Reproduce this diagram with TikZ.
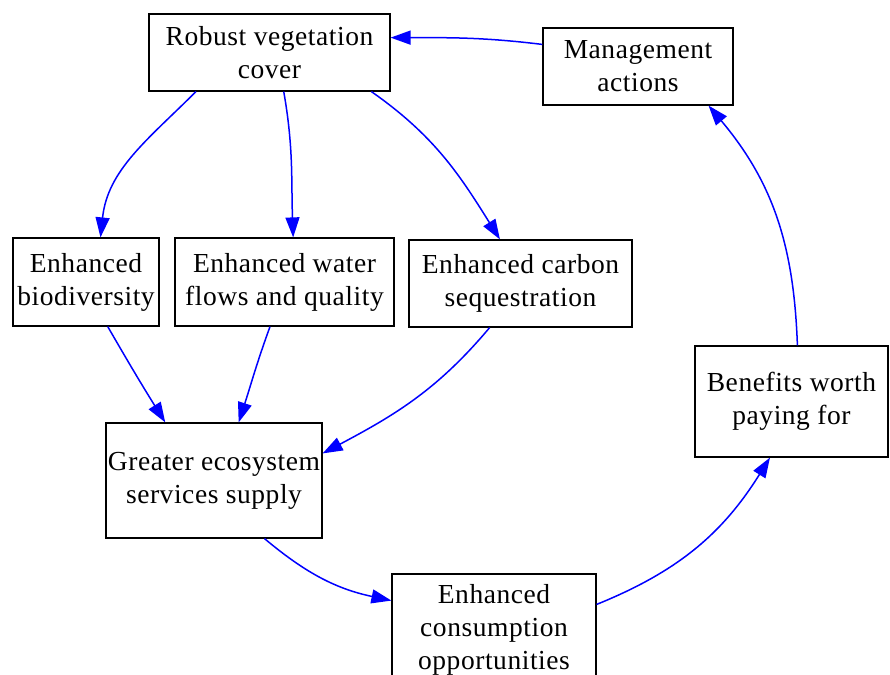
\documentclass[tikz,border=0pt]{standalone}
\usepackage{fontspec}
\setmainfont{Liberation Serif}[LetterSpace=2]
\usetikzlibrary{positioning,arrows.meta}

\begin{document}
\begin{tikzpicture}[x=1pt,y=1pt,on grid,
  box/.style={draw,line width=1.2pt,inner sep=0pt,align=center,
    font=\fontsize{27.5}{33}\selectfont},
  flow/.style={blue,line width=1.5pt,-{Triangle[length=20pt,width=14pt]}}]
\useasboundingbox (0,0) rectangle (890,-674);
\node[box,minimum width=241pt,minimum height=77pt] (robust) at (269.5,-52.5) {Robust vegetation\\cover};
\node[box,minimum width=190pt,minimum height=77pt] (mgmt) [below right=14pt and 368.5pt of robust] {Management\\actions};
\node[box,minimum width=219pt,minimum height=88pt] (water) [below right=229.5pt and 15pt of robust] {Enhanced water\\flows and quality};
\node[box,minimum width=146pt,minimum height=88pt] (bio) [left=198.5pt of water] {Enhanced\\biodiversity};
\node[box,minimum width=223pt,minimum height=87pt] (carbon) [below right=1.5pt and 236pt of water] {Enhanced carbon\\sequestration};
\node[box,minimum width=216pt,minimum height=115pt] (greater) [below left=198.5pt and 70.5pt of water] {Greater ecosystem\\services supply};
\node[box,minimum width=204pt,minimum height=112pt] (cons) [below right=149.5pt and 280pt of greater] {Enhanced\\consumption\\opportunities};
\node[box,minimum width=193pt,minimum height=111pt] (benefits) [above right=228.5pt and 297.5pt of cons] {Benefits worth\\paying for};
\path[flow]
(mgmt.167) edge[out=173,in=0] (robust.7)
(robust.-152.7) edge[out=-135,in=84] (bio.72)
(robust.-70.7) edge[out=-80,in=92] (water.79)
(robust.-21.3) edge[out=-35,in=122] (carbon.115)
(bio.-64.5) edge[out=-60,in=122] (greater.130.4)
(water.-108.2) edge[out=-110,in=72] (greater.67.3)
(carbon.-125) edge[out=-130,in=28] (greater.14.3)
(greater.-49) edge[out=-40,in=168] (cons.164)
(cons.14) edge[out=22,in=-122] (benefits.-111)
(benefits.84) edge[out=92,in=-50] (mgmt.-29.9);
\end{tikzpicture}
\end{document}
